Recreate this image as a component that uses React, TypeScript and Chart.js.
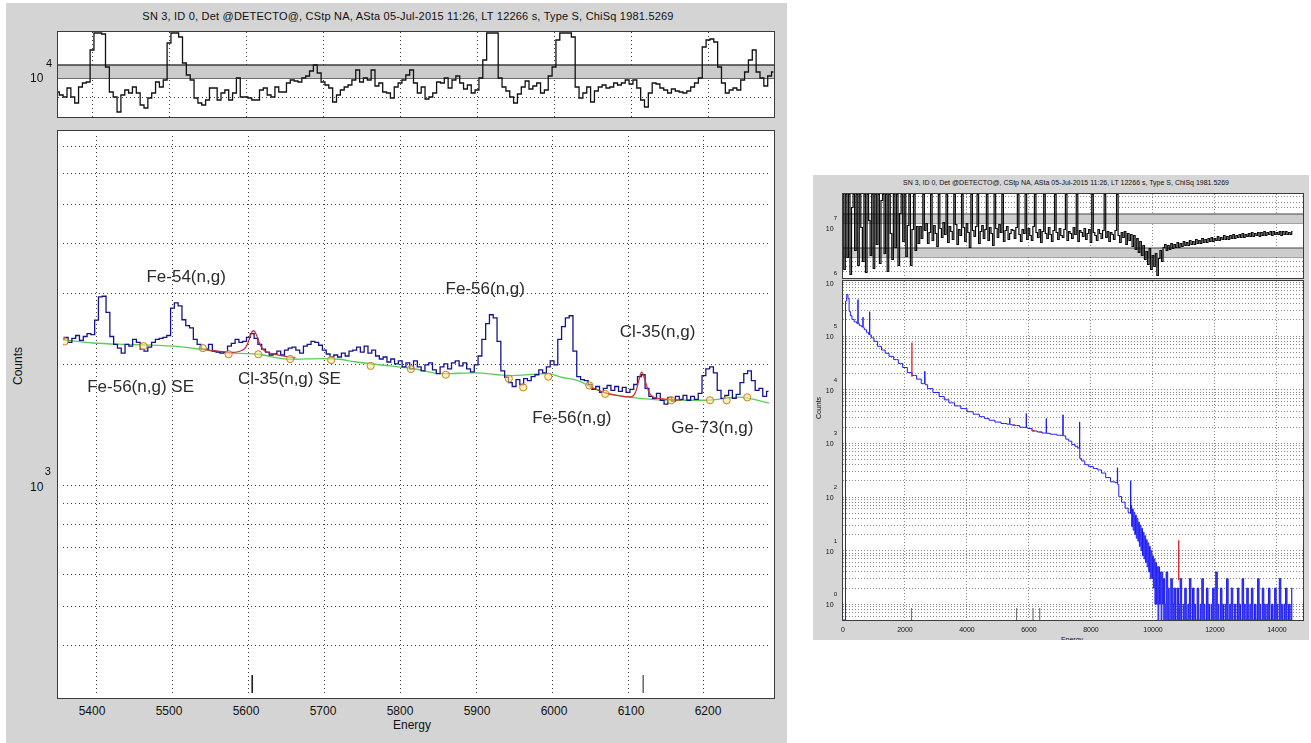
import React, { useEffect, useRef } from "react";
import { Chart, registerables } from "chart.js";

Chart.register(...registerables);

const FONT = '"Liberation Sans", Arial, Helvetica, sans-serif';
const TITLE =
  "SN 3, ID 0, Det @DETECTO@, CStp NA, ASta 05-Jul-2015 11:26, LT 12266 s, Type S, ChiSq 1981.5269";

// ================= LEFT (zoomed 5355 - 6286 keV) =================
const zoomBinStart = 5355;
const zoomBinWidth = 5;
const zoomCounts = [
  2311, 2337, 2272, 2324, 2363, 2298, 2350, 2389, 2376, 2580,
  2950, 2960, 2700, 2350, 2247, 2198, 2137, 2247, 2223, 2311,
  2272, 2185, 2161, 2210, 2272, 2311, 2324, 2337, 2363, 2764,
  2848, 2800, 2587, 2500, 2470, 2311, 2247, 2185, 2185, 2247,
  2161, 2149, 2137, 2149, 2223, 2259, 2311, 2272, 2285, 2337,
  2389, 2324, 2247, 2185, 2149, 2113, 2125, 2161, 2113, 2173,
  2198, 2210, 2173, 2137, 2223, 2247, 2285, 2272, 2235, 2173,
  2125, 2089, 2113, 2089, 2137, 2101, 2161, 2173, 2210, 2149,
  2223, 2137, 2173, 2101, 2065, 2089, 2030, 2065, 2008, 2042,
  1974, 2019, 1952, 2042, 1974, 1930, 1996, 2019, 1941, 1898,
  1974, 2008, 1952, 2019, 2042, 1985, 2019, 1952, 1919, 1996,
  2101, 2311, 2530, 2662, 2616, 2285, 1930, 1860, 1803, 1764,
  1834, 1784, 1845, 1824, 1866, 1887, 1941, 1908, 1974, 2042,
  1996, 2311, 2488, 2616, 2647, 2161, 1866, 1834, 1824, 1784,
  1735, 1764, 1705, 1744, 1774, 1725, 1764, 1715, 1754, 1705,
  1735, 1784, 1866, 1887, 1744, 1667, 1648, 1695, 1630, 1594,
  1657, 1621, 1667, 1639, 1677, 1630, 1667, 1639, 1695, 1877,
  1952, 1974, 1908, 1725, 1648, 1677, 1725, 1648, 1686, 1803,
  1898, 1930, 1824, 1725, 1744, 1667, 1715,
];
const zoomResiduals = [
  0.5, 0.2, 0.0, 0.9, 0.0, -0.6, 1.0, 1.4, 1.5, 4.7,
  6.4, 6.4, 6.3, 3.0, 0.5, 0.0, -1.5, 0.2, 0.7, 0.4,
  1.0, 0.4, -0.8, -1.1, -0.1, 0.4, 1.5, 1.0, 1.7, 5.4,
  6.4, 6.4, 6.0, 3.4, 2.2, 1.7, -0.1, -0.6, -0.8, -0.3,
  0.9, 0.9, -0.3, 0.4, 0.7, -0.3, 0.4, 1.9, 0.0, 0.0,
  -0.1, -0.3, -0.3, 0.7, 0.9, 0.2, 0.0, 1.0, 0.5, 0.5,
  1.4, 1.7, 1.6, 1.5, 1.9, 2.1, 2.6, 3.2, 2.4, 1.5,
  1.2, 0.9, -0.5, 0.2, 0.7, 1.0, 1.2, 1.7, 2.7, 1.5,
  1.9, 1.7, 2.7, 1.1, 1.4, 0.5, 0.4, -0.1, 1.0, 1.4,
  1.7, 2.2, 2.7, 1.4, 0.4, 1.0, -0.2, 0.0, 0.4, 1.5,
  1.4, 1.9, 0.9, 1.7, 2.1, 1.4, 0.8, 1.2, 0.4, 0.7,
  1.9, 3.7, 6.4, 6.4, 6.4, 1.9, 1.0, 0.6, 0.0, -0.6,
  0.3, 1.0, 1.6, 0.8, 1.1, 1.4, 0.4, 0.7, 2.1, 3.0,
  5.7, 6.4, 6.4, 6.4, 6.0, 1.0, -0.1, 0.4, 1.0, -0.5,
  0.6, 1.0, 1.2, 0.9, 1.0, 1.4, 1.2, 1.4, 1.7, 1.3,
  1.7, 0.9, -0.3, -1.0, 0.4, 1.4, 1.3, 0.9, 0.7, 0.4,
  0.8, 0.6, 0.5, 0.4, 0.6, 1.0, 1.4, 1.9, 5.0, 5.7,
  5.8, 5.5, 3.0, 1.4, 0.4, 0.7, 0.9, 0.7, 1.7, 2.5,
  3.7, 4.7, 2.5, 1.9, 1.1, 2.1, 2.5,
];
const zoomBandLow = 1.9;
const zoomBandHigh = 3.2;

const bgEnergy = [5356, 5395, 5440, 5482, 5503, 5538, 5569, 5612, 5655, 5699, 5720, 5742, 5786, 5819, 5856, 5899, 5943, 5995, 6012, 6034, 6055, 6073, 6116, 6160, 6203, 6246, 6286];
const bgCounts = [2305, 2264, 2245, 2232, 2223, 2183, 2141, 2122, 2062, 2070, 2062, 2030, 1985, 1950, 1898, 1908, 1877, 1898, 1860, 1824, 1744, 1695, 1648, 1630, 1630, 1660, 1605];

const fit1Energy = [5538, 5555, 5570, 5585, 5595, 5600, 5604, 5607, 5611, 5616, 5622, 5635, 5650, 5662];
const fit1Counts = [2185, 2165, 2150, 2150, 2190, 2280, 2400, 2430, 2360, 2230, 2160, 2120, 2095, 2080];
const fit2Energy = [6050, 6070, 6090, 6105, 6110, 6114, 6118, 6122, 6127, 6133, 6150, 6170];
const fit2Counts = [1760, 1700, 1670, 1665, 1710, 1820, 1915, 1840, 1720, 1660, 1640, 1632];

const regionEnergy = [5358, 5462, 5540, 5574, 5613, 5655, 5709, 5761, 5814, 5860, 5943, 5962, 5995, 6049, 6070, 6157, 6208, 6230, 6257];
const regionCounts = [2285, 2223, 2198, 2122, 2122, 2065, 2053, 1985, 1949, 1887, 1845, 1755, 1866, 1774, 1691, 1630, 1630, 1630, 1657];

const zoomMarkEnergy = [5605, 6120];
const zoomMarkTop = 337;

const peakLabels = ["Fe-54(n,g)", "Fe-56(n,g) SE", "Cl-35(n,g) SE", "Fe-56(n,g)", "Cl-35(n,g)", "Fe-56(n,g)", "Ge-73(n,g)"];
const peakLabelEnergy = [5518, 5458, 5654, 5912, 6139, 6026, 6211];
const peakLabelCounts = [3297, 1754, 1835, 3073, 2412, 1472, 1384];

const zoomXTicks = [5400, 5500, 5600, 5700, 5800, 5900, 6000, 6100, 6200];
const zoomYGrid = [400, 500, 600, 700, 800, 900, 1000, 2000, 3000, 4000, 5000, 6000, 7000];
const zoomXMin = 5355.8;
const zoomXMax = 6285.7;
const zoomYMin = 304;
const zoomYMax = 7422;
const zoomResMin = -2.0;
const zoomResMax = 6.5;

// ================= RIGHT (full spectrum) =================
const fullEnergy = [
  0, 60, 100, 140, 180, 215, 260, 320, 400, 470, 480, 484, 490, 500, 560, 620, 640, 645, 650, 660,
  720, 790, 850, 855, 860, 866, 875, 950, 1050, 1183, 1300, 1420, 1550, 1720, 1850, 2000, 2150, 2300,
  2450, 2600, 2630, 2640, 2650, 2660, 2800, 3000, 3200, 3333, 3500, 3700, 3900, 4100, 4300, 4500, 4624,
  4800, 5000, 5200, 5370, 5380, 5390, 5400, 5484, 5600, 5800, 5905, 5914, 5922, 5930, 6000, 6200, 6344,
  6500, 6550, 6560, 6570, 6580, 6800, 6989, 7085, 7097, 7110, 7120, 7250, 7312, 7450, 7527, 7620, 7625,
  7634, 7642, 7650, 7750, 7849, 8000, 8150, 8280, 8400, 8550, 8710, 8845, 8855, 8865, 8870, 8925, 9050,
  9150, 9248, 9270, 9280, 9290,
  9300, 9325, 9350, 9375, 9400, 9425, 9450, 9475, 9500, 9525, 9550, 9575, 9600, 9625, 9650, 9675,
  9700, 9725, 9750, 9775, 9800, 9825, 9850, 9875, 9900, 9925, 9950, 9975, 10000, 10025, 10050, 10075,
  10100, 10125, 10150, 10175, 10200, 10225, 10250, 10275, 10300, 10325,
];
const fullCounts = [
  0, 0, 450000, 600000, 500000, 290000, 240000, 205000, 185000, 175000, 172000, 480000, 170000, 170000, 158000, 150000, 148000, 226000, 145000, 143000,
  132000, 118000, 108000, 107000, 285000, 106000, 105000, 93000, 80000, 64500, 55000, 48000, 42000, 36500, 31000, 26000, 21000, 18500,
  15800, 13000, 13100, 22000, 12800, 12400, 10500, 8900, 7500, 6500, 5700, 5000, 4450, 3900, 3500, 3150, 2900,
  2700, 2500, 2350, 2280, 2950, 2260, 2250, 2200, 2150, 2000, 1975, 3600, 1960, 1950, 1900, 1700, 1630,
  1560, 1555, 2900, 1545, 1540, 1480, 1420, 1400, 3400, 1390, 1380, 1200, 1100, 950, 870, 820, 825,
  2500, 530, 520, 470, 400, 370, 340, 320, 280, 230, 192, 185, 350, 172, 170, 102, 80,
  62, 51, 50, 200, 49,
  70, 28, 60, 24, 52, 20, 46, 17, 40, 15, 34, 12, 30, 10, 26, 8,
  22, 7, 19, 6, 16, 5, 14, 4, 12, 3, 10, 3, 8, 2, 7, 1,
  6, 1, 5, 0, 5, 1, 4, 0, 4, 1,
];
const tailStart = 10350;
const tailStep = 50;
const tailCounts = [
  3, 1, 4, 2, 0, 3, 1, 2, 0, 2, 1, 3, 0, 1, 2, 0, 1, 3, 0, 2,
  1, 0, 2, 0, 1, 3, 1, 0, 2, 1, 0, 1, 2, 0, 4, 1, 0, 2, 1, 0,
  1, 3, 0, 1, 2, 0, 1, 0, 2, 1, 0, 3, 1, 0, 2, 0, 1, 2, 0, 1,
  0, 3, 1, 0, 2, 1, 0, 1, 2, 0, 1, 0, 2, 1, 0, 3, 1, 0, 1, 2,
  0, 1, 0, 2,
];
const fullRedEnergy = [2223, 2223, null, 10830, 10830];
const fullRedCounts = [17500, 76000, null, 2.8, 15.7];
const fullRedFitEnergy = [5480, 5560, null, 6080, 6180, null, 6330, 6420];
const fullRedFitCounts = [2210, 2170, null, 1780, 1710, null, 1640, 1600];
const fullMarkEnergy = [2210, 5600, 6130, 6345, 10840];
const fullMarkTop = 0.85;

const fullResStep = 50;
const fullResiduals = [
  // 0 - 2450
  4.1, -3.4, 4.1, -2.2, 4.1, -3.9, 2.8, 4.1, -1.5, 4.1,
  -3.0, 4.1, 0.8, -2.6, 4.1, -3.7, 4.1, 1.5, -2.0, 4.1,
  -3.3, 4.1, -0.9, 4.1, -2.8, 3.5, 4.1, -1.8, 4.1, -3.6,
  4.1, 0.2, -2.4, 4.1, -1.2, 4.1, -3.0, 2.2, 4.1, -0.6,
  4.1, -2.1, 1.0, 4.1, -3.0, 0.6, 4.1, -1.5, 0.9, -0.8,
  // 2500 - 5450
  0.9, -0.3, 4.1, 0.5, 1.2, -0.8, 0.3, 4.1, -0.5, 1.0,
  0.2, -1.1, 4.1, 0.7, -0.2, 1.3, 0.1, 4.1, -0.7, 0.9,
  0.4, -0.4, 4.1, 1.1, -0.9, 0.6, 0.0, 4.1, 0.8, -0.6,
  1.2, 0.3, -1.2, 4.1, 0.5, -0.1, 0.9, 4.1, -0.8, 0.4,
  1.0, -0.3, 0.6, 4.1, -0.5, 0.8, 0.2, -1.0, 4.1, 0.7,
  -0.2, 1.1, 0.3, 4.1, -0.6, 0.5, 0.9, -0.4, 0.2, 0.6,
  // 5500 - 9750
  0.5, -0.3, 0.8, 4.1, 0.1, -0.6, 0.6, 0.2, 4.1, -0.4,
  0.7, 0.0, -0.5, 0.9, 4.1, 0.3, -0.2, 0.6, -0.7, 0.4,
  4.1, 0.2, -0.3, 0.8, 0.1, -0.6, 0.5, 4.1, 0.3, -0.4,
  0.7, 0.0, -0.2, 0.6, 4.1, -0.5, 0.4, 0.2, -0.3, 0.8,
  0.1, 4.1, -0.6, 0.5, 0.3, -0.1, 0.7, -0.4, 0.2, 0.6,
  -0.7, 4.1, 0.3, 0.0, -0.5, 0.6, 0.2, -0.3, 0.5, 4.1,
  -0.2, 0.4, -0.6, 0.3, 0.1, -0.4, 0.5, 4.1, 0.0, -0.7,
  0.3, -0.2, 0.4, -0.9, 0.2, -0.5, 0.1, -1.1, 0.0, -1.4,
  -0.3, -1.7, -0.6, -2.0, -1.0, -2.4,
  // 9800 - 10350
  -1.6, -2.9, -1.3, -3.4, -2.0, -3.1, -1.8, -4.0, -2.3, -1.5, -2.6, -1.2,
  // 10400 - 14500
  -0.9, -1.5, -1.0, -1.4, -0.8, -1.3, -0.9, -1.2, -0.7, -1.2,
  -0.8, -1.1, -0.6, -1.0, -0.7, -1.0, -0.5, -0.9, -0.6, -0.9,
  -0.4, -0.8, -0.5, -0.8, -0.3, -0.7, -0.4, -0.7, -0.3, -0.6,
  -0.2, -0.6, -0.3, -0.5, -0.1, -0.5, -0.2, -0.4, 0.0, -0.4,
  -0.1, -0.4, 0.0, -0.3, 0.1, -0.3, 0.0, -0.2, 0.1, -0.2,
  0.2, -0.2, 0.1, -0.1, 0.2, -0.1, 0.3, -0.1, 0.2, 0.0,
  0.3, -0.1, 0.3, 0.0, 0.4, 0.0, 0.3, 0.1, 0.4, 0.0,
  0.4, 0.1, 0.3, 0.1, 0.4, 0.0, 0.4, 0.1, 0.4, 0.1,
  0.3, 0.1, 0.4,
];
const fullBandUpper = [1.25, 2.15];
const fullBandLower = [-2.15, -1.25];
const fullResGrid = [3.9, 3.3, 2.8, -2.6, -3.1, -3.6];

const fullXTicks = [0, 2000, 4000, 6000, 8000, 10000, 12000, 14000];
const fullXGrid = [2000, 4000, 6000, 8000, 10000, 12000, 14000];
const fullXMin = 0;
const fullXMax = 14840;
const fullYMin = 0.509;
const fullYMax = 1.067e6;
const fullYExps = [0, 1, 2, 3, 4, 5, 6];
const fullResMin = -4.25;
const fullResMax = 4.15;

// ================= helpers =================
function logGrid(min: number, max: number): number[] {
  const out: number[] = [];
  for (let e = -1; e <= 6; e++) {
    for (let s = 1; s <= 9; s++) {
      const v = s * Math.pow(10, e);
      if (v > min * 1.01 && v < max * 0.99) out.push(v);
    }
  }
  return out;
}

function axis(type: string, min: number, max: number, grid: number[], color: string, dash: number[]) {
  return {
    type,
    min,
    max,
    display: true,
    ticks: { display: false },
    grid: { display: true, drawTicks: false, drawOnChartArea: true, color, lineWidth: 1, borderDash: dash },
    border: { display: false, dash },
    afterBuildTicks: (scale: any) => {
      scale.ticks = grid.map((v) => ({ value: v }));
    },
  };
}

function config(datasets: any[], xs: any, ys: any, plugins: any[] = []) {
  return {
    type: "line",
    data: { datasets },
    options: {
      responsive: false,
      maintainAspectRatio: false,
      animation: false,
      devicePixelRatio: 1,
      events: [],
      layout: { padding: 0 },
      elements: { point: { radius: 0 } },
      plugins: { legend: { display: false }, tooltip: { enabled: false }, title: { display: false } },
      scales: { x: xs, y: ys },
    },
    plugins,
  };
}

const pairs = (xs: (number | null)[], ys: (number | null)[]) =>
  xs.map((x, i) => ({ x: x === null ? NaN : x, y: ys[i] }));

const line = (data: any[], color: string, width: number, extra: any = {}) => ({
  data,
  borderColor: color,
  backgroundColor: color,
  borderWidth: width,
  pointRadius: 0,
  fill: false,
  tension: 0,
  ...extra,
});

// ================= chart builders =================
const peakLabelPlugin = {
  id: "peakLabels",
  afterDatasetsDraw(chart: any) {
    const { ctx, scales } = chart;
    ctx.save();
    ctx.font = `17px ${FONT}`;
    ctx.fillStyle = "#2b2b2b";
    ctx.textAlign = "center";
    ctx.textBaseline = "middle";
    peakLabels.forEach((t, i) => {
      ctx.fillText(t, scales.x.getPixelForValue(peakLabelEnergy[i]), scales.y.getPixelForValue(peakLabelCounts[i]));
    });
    ctx.restore();
  },
};

function buildZoomMain() {
  const spectrum = zoomCounts.map((c, i) => ({ x: zoomBinStart + i * zoomBinWidth, y: c }));
  const markers = zoomMarkEnergy.map((e, i) =>
    line(
      [
        { x: e, y: zoomYMin },
        { x: e, y: zoomMarkTop },
      ],
      i === 0 ? "#111111" : "#666666",
      1.5
    )
  );
  const datasets = [
    {
      data: pairs(regionEnergy, regionCounts),
      showLine: false,
      pointRadius: 3.6,
      pointBorderWidth: 1,
      pointBorderColor: "#c9801e",
      pointBackgroundColor: "rgba(250,225,140,0.55)",
      borderColor: "#c9801e",
    },
    line(pairs(fit1Energy, fit1Counts), "#c8283c", 1.2, { tension: 0.35 }),
    line(pairs(fit2Energy, fit2Counts), "#d02a2a", 1.2, { tension: 0.35 }),
    line(spectrum, "#14148f", 1.3, { stepped: "middle" }),
    line(pairs(bgEnergy, bgCounts), "#55d055", 1.3, { cubicInterpolationMode: "monotone" }),
    ...markers,
  ];
  return config(
    datasets,
    axis("linear", zoomXMin, zoomXMax, zoomXTicks, "#3a3a3a", [1, 3]),
    axis("logarithmic", zoomYMin, zoomYMax, zoomYGrid, "#3a3a3a", [1, 3]),
    [peakLabelPlugin]
  );
}

function buildZoomResidual() {
  const res = zoomResiduals.map((r, i) => ({ x: zoomBinStart + i * zoomBinWidth, y: r }));
  const datasets = [
    line(res, "#111111", 1.3, { stepped: "middle" }),
    line(
      [
        { x: zoomXMin, y: zoomBandHigh },
        { x: zoomXMax, y: zoomBandHigh },
      ],
      "#3c3c3c",
      1.3,
      { fill: "+1", backgroundColor: "#cbcbcb" }
    ),
    line(
      [
        { x: zoomXMin, y: zoomBandLow },
        { x: zoomXMax, y: zoomBandLow },
      ],
      "#3c3c3c",
      1.3
    ),
  ];
  return config(
    datasets,
    axis("linear", zoomXMin, zoomXMax, zoomXTicks, "#3a3a3a", [1, 3]),
    axis("linear", zoomResMin, zoomResMax, [0], "#3a3a3a", [1, 3])
  );
}

function buildFullMain() {
  const floor = (c: number) => (c > 0 ? c : fullYMin);
  const head = fullEnergy.map((e, i) => ({ x: e, y: floor(fullCounts[i]) }));
  const tail = tailCounts.map((c, i) => ({ x: tailStart + i * tailStep, y: floor(c) }));
  const markers = fullMarkEnergy.map((e) =>
    line(
      [
        { x: e, y: fullYMin },
        { x: e, y: fullMarkTop },
      ],
      "#777777",
      1.2
    )
  );
  const datasets = [
    line(pairs(fullRedEnergy, fullRedCounts), "#e02020", 1.3),
    line(pairs(fullRedFitEnergy, fullRedFitCounts), "#e02020", 1.2),
    line(head, "#1c1cf5", 1, { stepped: "middle" }),
    line([head[head.length - 1], ...tail], "#1c1cf5", 1, {
      stepped: "middle",
      fill: "start",
      backgroundColor: "rgba(28,28,245,0.85)",
    }),
    ...markers,
  ];
  return config(
    datasets,
    axis("linear", fullXMin, fullXMax, fullXGrid, "#8a8a8a", [1, 2]),
    axis("logarithmic", fullYMin, fullYMax, logGrid(fullYMin, fullYMax), "#8a8a8a", [1, 2])
  );
}

function buildFullResidual() {
  const res = fullResiduals.map((r, i) => ({ x: i * fullResStep, y: r }));
  const band = (v: number, fill: boolean) =>
    line(
      [
        { x: fullXMin, y: v },
        { x: fullXMax, y: v },
      ],
      "#444444",
      1,
      fill ? { fill: "+1", backgroundColor: "#cdcdcd" } : {}
    );
  const datasets = [
    line(res, "#0a0a0a", 1.2, { stepped: "middle" }),
    band(fullBandUpper[1], true),
    band(fullBandUpper[0], false),
    band(fullBandLower[1], true),
    band(fullBandLower[0], false),
  ];
  return config(
    datasets,
    axis("linear", fullXMin, fullXMax, fullXGrid, "#8a8a8a", [1, 2]),
    axis("linear", fullResMin, fullResMax, fullResGrid, "#8a8a8a", [1, 2])
  );
}

// ================= components =================
function ChartCanvas(props: { left: number; top: number; width: number; height: number; build: () => any }) {
  const { left, top, width, height, build } = props;
  const ref = useRef<HTMLCanvasElement | null>(null);
  useEffect(() => {
    if (!ref.current) return;
    const chart = new Chart(ref.current, build() as any);
    return () => chart.destroy();
  }, []);
  return (
    <>
      <canvas
        ref={ref}
        width={width}
        height={height}
        style={{ position: "absolute", left, top, width, height, background: "#ffffff", display: "block" }}
      />
      <div
        style={{
          position: "absolute",
          left: left - 1,
          top: top - 1,
          width: width + 2,
          height: height + 2,
          border: "1px solid #3a3a3a",
          boxSizing: "border-box",
          pointerEvents: "none",
        }}
      />
    </>
  );
}

function Txt(props: { x: number; y: number; size: number; children: any; rotate?: boolean; color?: string; spacing?: number }) {
  const { x, y, size, children, rotate, color, spacing } = props;
  return (
    <div
      style={{
        position: "absolute",
        left: x,
        top: y,
        transform: `translate(-50%, -50%)${rotate ? " rotate(-90deg)" : ""}`,
        font: `${size}px ${FONT}`,
        lineHeight: 1,
        whiteSpace: "nowrap",
        color: color || "#111111",
        letterSpacing: spacing ? `${spacing}px` : undefined,
      }}
    >
      {children}
    </div>
  );
}

function Pow(props: { x: number; y: number; exp: number; size: number; expSize: number; dx: number; dy: number }) {
  const { x, y, exp, size, expSize, dx, dy } = props;
  return (
    <>
      <Txt x={x} y={y} size={size}>10</Txt>
      <Txt x={x + dx} y={y - dy} size={expSize}>{String(exp)}</Txt>
    </>
  );
}

// layout geometry (pixels)
const L = { mainLeft: 58, mainTop: 131, mainW: 716, mainH: 567, resTop: 32, resH: 85 };
const R = { left: 843, w: 460, resTop: 194, resH: 84, mainTop: 281, mainH: 339 };

const zoomX = (e: number) => L.mainLeft + ((e - zoomXMin) / (zoomXMax - zoomXMin)) * L.mainW;
const fullX = (e: number) => R.left + ((e - fullXMin) / (fullXMax - fullXMin)) * R.w;
const fullY = (v: number) =>
  R.mainTop + ((Math.log10(fullYMax) - Math.log10(v)) / (Math.log10(fullYMax) - Math.log10(fullYMin))) * R.mainH;
const zoomY = (v: number) =>
  L.mainTop + ((Math.log10(zoomYMax) - Math.log10(v)) / (Math.log10(zoomYMax) - Math.log10(zoomYMin))) * L.mainH;

export default function App() {
  return (
    <div
      style={{
        position: "absolute",
        left: 0,
        top: 0,
        width: 1311,
        height: 743,
        overflow: "hidden",
        background: "#ffffff",
        fontFamily: FONT,
      }}
    >
      {/* LEFT FIGURE */}
      <div style={{ position: "absolute", left: 6, top: 3, width: 781, height: 740, background: "#d4d4d4" }} />
      <Txt x={408} y={16} size={11} spacing={0.2}>{TITLE}</Txt>
      <ChartCanvas left={L.mainLeft} top={L.resTop} width={L.mainW} height={L.resH} build={buildZoomResidual} />
      <ChartCanvas left={L.mainLeft} top={L.mainTop} width={L.mainW} height={L.mainH} build={buildZoomMain} />
      <Pow x={36.7} y={77.5} exp={4} size={12} expSize={11} dx={12.3} dy={14.2} />
      <Pow x={36.7} y={zoomY(1000)} exp={3} size={12} expSize={11} dx={11.1} dy={15.7} />
      {zoomXTicks.map((t) => (
        <Txt key={t} x={zoomX(t)} y={711} size={12}>{String(t)}</Txt>
      ))}
      <Txt x={412} y={725} size={12}>Energy</Txt>
      <Txt x={18} y={366} size={12} rotate>Counts</Txt>

      {/* RIGHT FIGURE */}
      <div style={{ position: "absolute", left: 813, top: 175, width: 496, height: 465, background: "#d6d6d6", overflow: "hidden" }}>
        <div style={{ position: "absolute", left: 1072 - 813, top: 638.5 - 175 }}>
          <Txt x={0} y={0} size={7}>Energy</Txt>
        </div>
      </div>
      <Txt x={1066} y={182} size={7}>{TITLE}</Txt>
      <ChartCanvas left={R.left} top={R.resTop} width={R.w} height={R.resH} build={buildFullResidual} />
      <ChartCanvas left={R.left} top={R.mainTop} width={R.w} height={R.mainH} build={buildFullMain} />
      <Pow x={829.7} y={227.5} exp={7} size={7} expSize={6} dx={5.6} dy={10} />
      {fullYExps.map((k) => (
        <Pow key={k} x={829.7} y={fullY(Math.pow(10, k))} exp={k} size={7} expSize={6} dx={5.6} dy={10} />
      ))}
      {fullXTicks.map((t) => (
        <Txt key={t} x={fullX(t)} y={629} size={7}>{String(t)}</Txt>
      ))}
      <Txt x={818} y={408} size={7} rotate>Counts</Txt>
    </div>
  );
}
